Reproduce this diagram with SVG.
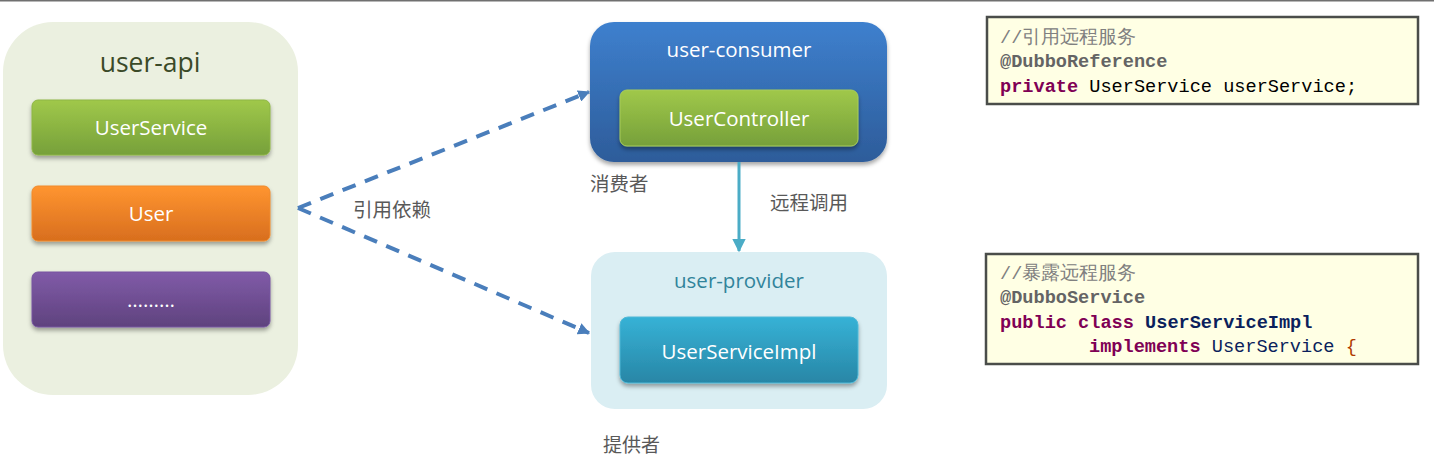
<svg xmlns="http://www.w3.org/2000/svg" width="1434" height="458" viewBox="0 0 1434 458">
<style>
.lbl{font-family:"Open Sans","Noto Sans",sans-serif;text-anchor:middle;fill:#fff;font-size:20.5px}
.cn{font-family:"Noto Sans CJK SC",sans-serif;font-size:19.5px;fill:#595959}
.code{font-family:"Liberation Mono",monospace;font-size:18.6px}
.cm{fill:#808080}
.an{fill:#646464;font-weight:bold}
.kw{fill:#7F0055;font-weight:bold}
.nm{fill:#000}
.cb{fill:#FFFFE4;stroke:#4A4D4A;stroke-width:2.5}
.dash{fill:none;stroke:#4A7EBB;stroke-width:4;stroke-dasharray:14 10}
</style>
<defs>
<linearGradient id="gGreen" x1="0" y1="0" x2="0" y2="1"><stop offset="0" stop-color="#A0C84A"/><stop offset="1" stop-color="#76A03A"/></linearGradient>
<linearGradient id="gOrange" x1="0" y1="0" x2="0" y2="1"><stop offset="0" stop-color="#FF9530"/><stop offset="1" stop-color="#D86E1E"/></linearGradient>
<linearGradient id="gPurple" x1="0" y1="0" x2="0" y2="1"><stop offset="0" stop-color="#805BA8"/><stop offset="1" stop-color="#5F427E"/></linearGradient>
<linearGradient id="gBlue" x1="0" y1="0" x2="0" y2="1"><stop offset="0" stop-color="#3E80CE"/><stop offset="1" stop-color="#2D5C9A"/></linearGradient>
<linearGradient id="gTeal" x1="0" y1="0" x2="0" y2="1"><stop offset="0" stop-color="#36B2D6"/><stop offset="1" stop-color="#2886A6"/></linearGradient>
<filter id="sh" x="-10%" y="-20%" width="120%" height="150%"><feDropShadow dx="0" dy="3" stdDeviation="2" flood-color="#000" flood-opacity="0.35"/></filter>
<marker id="tri" viewBox="0 0 10 10" refX="9" refY="5" markerWidth="3" markerHeight="3" orient="auto" markerUnits="strokeWidth"><path d="M0,0 L10,5 L0,10 Z" fill="#4A7EBB"/></marker>
<marker id="triT" viewBox="0 0 10 10" refX="9" refY="5" markerWidth="4.5" markerHeight="4.5" orient="auto" markerUnits="strokeWidth"><path d="M0,0 L10,5 L0,10 Z" fill="#4BACC6"/></marker>
</defs>
<line x1="0" y1="0.8" x2="1434" y2="0.8" stroke="#707070" stroke-width="1.6"/>

<g id="user-api">
<rect x="3" y="22" width="295" height="373" rx="50" fill="#EBF0E0"/>
<text x="150" y="72" class="lbl" style="font-size:26.5px;fill:#3B4A28">user-api</text>
</g>
<g id="UserService">
<rect x="32" y="100" width="238" height="55" rx="6" fill="url(#gGreen)" stroke="#8DB544" stroke-width="1" filter="url(#sh)"/>
<text x="151" y="135" class="lbl">UserService</text>
</g>
<g id="User">
<rect x="32" y="186" width="238" height="55" rx="6" fill="url(#gOrange)" stroke="#F08A2C" stroke-width="1" filter="url(#sh)"/>
<text x="151" y="221" class="lbl">User</text>
</g>
<g id="more">
<rect x="32" y="272" width="238" height="55" rx="6" fill="url(#gPurple)" stroke="#7654A0" stroke-width="1" filter="url(#sh)"/>
<text x="151" y="307" class="lbl">………</text>
</g>

<g id="user-consumer">
<rect x="590" y="22" width="297" height="140" rx="24" fill="url(#gBlue)" filter="url(#sh)"/>
<text x="739" y="57" class="lbl">user-consumer</text>
<text x="590" y="191" class="cn">消费者</text>
</g>
<g id="UserController">
<rect x="620" y="90" width="238" height="56" rx="7" fill="url(#gGreen)" stroke="#A8CC5A" stroke-width="1" filter="url(#sh)"/>
<text x="739" y="126" class="lbl">UserController</text>
</g>

<g id="user-provider">
<rect x="591" y="252" width="296" height="157" rx="24" fill="#DAEEF3"/>
<text x="739" y="288" class="lbl" style="fill:#31849B">user-provider</text>
<text x="603" y="452" class="cn" style="font-size:19px">提供者</text>
</g>
<g id="UserServiceImpl">
<rect x="620" y="317" width="238" height="66" rx="8" fill="url(#gTeal)" stroke="#4FB8D6" stroke-width="1" filter="url(#sh)"/>
<text x="739" y="359" class="lbl">UserServiceImpl</text>
</g>

<g id="connectors">
<path class="dash" d="M298,208 L589,92" marker-end="url(#tri)"/>
<path class="dash" d="M298,208 L589,333" marker-end="url(#tri)"/>
<text x="353" y="217" class="cn">引用依赖</text>
<line x1="739" y1="162" x2="739" y2="251" stroke="#4BACC6" stroke-width="3" marker-end="url(#triT)"/>
<text x="770" y="210" class="cn">远程调用</text>
</g>

<g id="code-reference">
<rect x="987" y="17" width="431" height="87" class="cb"/>
<text x="1000" y="43" class="code cm">//引用远程服务</text>
<text x="1000" y="67" class="code an">@DubboReference</text>
<text x="1000" y="92" class="code"><tspan class="kw">private</tspan><tspan class="nm"> UserService userService;</tspan></text>
</g>
<g id="code-service">
<rect x="986" y="254" width="432" height="110" class="cb"/>
<text x="1000" y="279" class="code cm">//暴露远程服务</text>
<text x="1000" y="303" class="code an">@DubboService</text>
<text x="1000" y="328" class="code"><tspan class="kw">public class</tspan><tspan style="fill:#0B1F5C;font-weight:bold"> UserServiceImpl</tspan></text>
<text x="1089" y="352" class="code"><tspan class="kw">implements</tspan><tspan style="fill:#0B1F5C"> UserService </tspan><tspan style="fill:#B03A00">{</tspan></text>
</g>
</svg>
